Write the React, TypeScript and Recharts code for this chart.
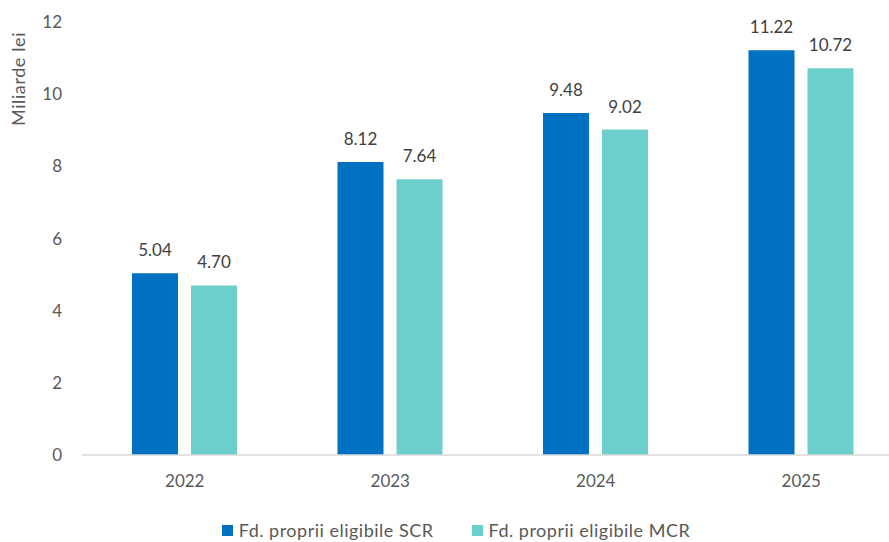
import { Bar, BarChart, LabelList, Legend, XAxis, YAxis } from 'recharts';

const years = ['2022', '2023', '2024', '2025'];
const scrValues = [5.04, 8.12, 9.48, 11.22];
const mcrValues = [4.7, 7.64, 9.02, 10.72];
const yTicks = [0, 2, 4, 6, 8, 10, 12];

const SCR_NAME = 'Fd. proprii eligibile SCR';
const MCR_NAME = 'Fd. proprii eligibile MCR';
const SCR_COLOR = '#0070C0';
const MCR_COLOR = '#6DCFCB';
const TEXT_COLOR = '#595959';
const FONT = 'Lato, "Open Sans", sans-serif';

const data = years.map((year, i) => ({
  year,
  scr: scrValues[i],
  mcr: mcrValues[i],
}));

function renderLegend() {
  const items = [
    { name: SCR_NAME, color: SCR_COLOR },
    { name: MCR_NAME, color: MCR_COLOR },
  ];
  return (
    <div
      style={{
        display: 'flex',
        justifyContent: 'center',
        gap: 38,
        fontFamily: FONT,
        fontSize: 18,
        letterSpacing: 0.5,
        color: TEXT_COLOR,
        lineHeight: '24px',
      }}
    >
      {items.map((item) => (
        <span key={item.name} style={{ display: 'inline-flex', alignItems: 'center' }}>
          <span
            style={{
              display: 'inline-block',
              width: 11,
              height: 11,
              background: item.color,
              marginRight: 6,
            }}
          />
          {item.name}
        </span>
      ))}
    </div>
  );
}

function YLabel() {
  return (
    <text
      x={18}
      y={79}
      transform="rotate(-90 18 79)"
      textAnchor="middle"
      dominantBaseline="central"
      fill={TEXT_COLOR}
      fontFamily={FONT}
      fontSize={18}
      letterSpacing={0.6}
    >
      Miliarde lei
    </text>
  );
}

const tickStyle = { fill: TEXT_COLOR, fontSize: 17, fontFamily: FONT };
const labelStyle = { fill: '#404040', fontSize: 17, fontFamily: FONT };

export default function App() {
  return (
    <div
      style={{
        position: 'fixed',
        left: 0,
        top: 0,
        width: 889,
        height: 542,
        overflow: 'hidden',
        background: '#fff',
      }}
    >
      <BarChart
        width={904}
        height={542}
        data={data}
        margin={{ top: 22, right: 0, left: 0, bottom: 0 }}
        barCategoryGap={50}
        barGap={13}
      >
        <XAxis
          dataKey="year"
          height={63}
          tickLine={false}
          tickSize={0}
          tickMargin={20}
          axisLine={{ stroke: '#D9D9D9', strokeWidth: 1.5 }}
          tick={tickStyle}
        />
        <YAxis
          width={82}
          domain={[0, 12]}
          ticks={yTicks}
          tickLine={false}
          tickSize={0}
          tickMargin={20}
          axisLine={false}
          tick={tickStyle}
          label={<YLabel />}
        />
        <Legend
          verticalAlign="bottom"
          height={24}
          content={renderLegend}
          wrapperStyle={{ left: 0, width: 912, bottom: 0 }}
        />
        <Bar dataKey="scr" name={SCR_NAME} fill={SCR_COLOR} barSize={46} isAnimationActive={false}>
          <LabelList
            dataKey="scr"
            position="top"
            offset={17}
            formatter={(v: number) => v.toFixed(2)}
            style={labelStyle}
          />
        </Bar>
        <Bar dataKey="mcr" name={MCR_NAME} fill={MCR_COLOR} barSize={46} isAnimationActive={false}>
          <LabelList
            dataKey="mcr"
            position="top"
            offset={17}
            formatter={(v: number) => v.toFixed(2)}
            style={labelStyle}
          />
        </Bar>
      </BarChart>
    </div>
  );
}
